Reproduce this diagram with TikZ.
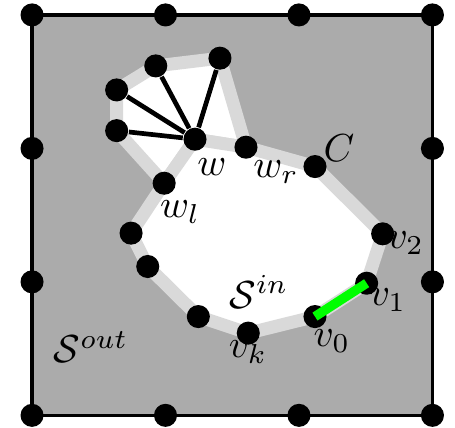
\documentclass[tikz,border=0pt]{standalone}
\usetikzlibrary{backgrounds}

\newcommand*{\gmax}{3}

\begin{document}
\begin{tikzpicture}
[
	x=1.2cm, y=1.2cm,
	vtx/.style={circle,fill,inner sep=0pt,minimum size=5.9pt},
	face/.style={fill=white,draw=black!15,line width=3.3pt,line join=round},
	fanedge/.style={line width=1.2pt},
	cut/.style={line width=2.4pt,green}
]
	\useasboundingbox (-0.240,-0.094) rectangle (3.169,3.112);

	% grid points on the frame
	\foreach \i in {0,...,\gmax} {
		\node[vtx] (b\i) at (\i,0) {};
		\node[vtx] (t\i) at (\i,\gmax) {};
	}
	\node[vtx] (l1) at (0,1) {};
	\node[vtx] (l2) at (0,2) {};
	\node[vtx] (r1) at (\gmax,1) {};
	\node[vtx] (r2) at (\gmax,2) {};

	% vertices of C
	\node[vtx] (w) at (1.221,2.069) {};
	\node[vtx] (wr) at (1.603,2.009) {};
	\node[vtx] (wl) at (0.990,1.739) {};
	\node[vtx] (c) at (2.120,1.864) {};
	\node[vtx] (v2) at (2.627,1.360) {};
	\node[vtx] (v1) at (2.507,0.990) {};
	\node[vtx] (v0) at (2.120,0.740) {};
	\node[vtx] (vk) at (1.620,0.616) {};
	\node[vtx] (p1) at (1.246,0.740) {};
	\node[vtx] (p2) at (0.867,1.115) {};
	\node[vtx] (p3) at (0.742,1.365) {};

	% fan around w
	\node[vtx] (f1) at (0.634,2.133) {};
	\node[vtx] (f2) at (0.634,2.438) {};
	\node[vtx] (f3) at (0.927,2.618) {};
	\node[vtx] (f4) at (1.408,2.676) {};

	% faces
	\begin{scope}[on background layer]
		\fill[black!33] (b0.center) rectangle (t\gmax.center);
		\draw[line width=0.9pt] (b0.center) rectangle (t\gmax.center);
		\draw[face] (wl.center) -- (f1.center) -- (f2.center) -- (f3.center)
			-- (f4.center) -- (wr.center) -- (w.center) -- cycle;
		\draw[face] (w.center) -- (wr.center) -- (c.center) -- (v2.center)
			-- (v1.center) -- (v0.center) -- (vk.center) -- (p1.center)
			-- (p2.center) -- (p3.center) -- (wl.center) -- cycle;
	\end{scope}

	\foreach \f in {f1,f2,f3,f4}
		\draw[fanedge] (w) -- (\f);

	% edge v0 v1
	\draw[cut] (v0.center) -- (v1.center);

	% labels
	\node (lc) at (2.30,2.00) {$C$};
	\node (lw) at (1.348,1.86) {$w$};
	\node (lwr) at (1.828,1.82) {$w_r$};
	\node (lwl) at (1.11,1.52) {$w_l$};
	\node (lv2) at (2.80,1.29) {$v_2$};
	\node (lv1) at (2.667,0.865) {$v_1$};
	\node (lv0) at (2.247,0.558) {$v_0$};
	\node (lvk) at (1.618,0.476) {$v_k$};
	\node (sin) at (1.70,0.925) {$\mathcal{S}^{in}$};
	\node (sout) at (0.442,0.513) {$\mathcal{S}^{out}$};

\end{tikzpicture}
\end{document}
